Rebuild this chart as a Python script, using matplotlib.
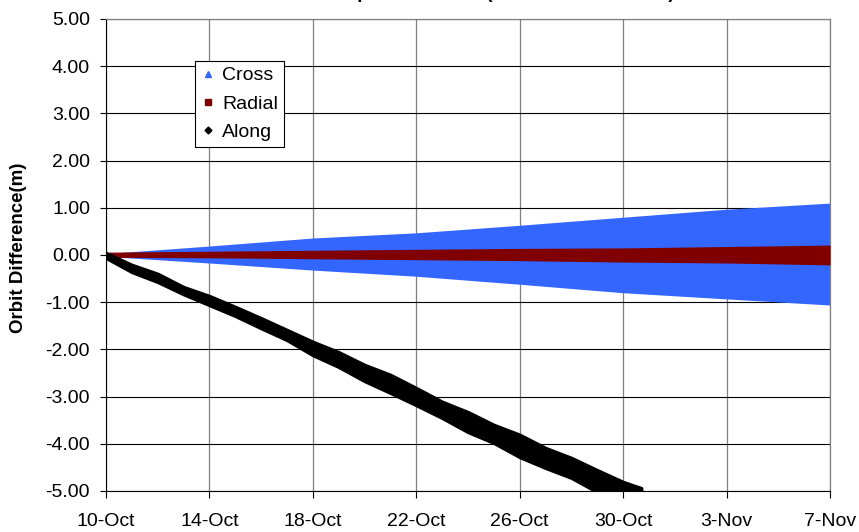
import numpy as np
import matplotlib
matplotlib.use("Agg")
import matplotlib.pyplot as plt
from matplotlib.lines import Line2D

plt.rcParams['font.family'] = ['Liberation Sans', 'DejaVu Sans']

start = np.datetime64("2005-10-10")

# Cross / Radial envelopes, read every 4 days (10-Oct .. 7-Nov)
env_days = [0, 4, 8, 12, 16, 20, 24, 28]
cross_upper = [0.03, 0.19, 0.36, 0.47, 0.63, 0.80, 0.97, 1.10]
cross_lower = [-0.03, -0.17, -0.32, -0.45, -0.62, -0.80, -0.93, -1.06]
radial_upper = [0.06, 0.08, 0.10, 0.12, 0.14, 0.15, 0.18, 0.21]
radial_lower = [-0.05, -0.06, -0.08, -0.10, -0.12, -0.15, -0.17, -0.21]

# Along band, read roughly every day
along_days = [0, 1, 2, 3, 4, 5, 6, 7, 8, 9, 10, 11, 12, 13, 14, 15, 16, 17,
              18, 19, 20, 20.7]
along_upper = [0.04, -0.21, -0.40, -0.68, -0.87, -1.10, -1.34, -1.59, -1.84,
               -2.06, -2.33, -2.54, -2.82, -3.11, -3.33, -3.60, -3.81, -4.09,
               -4.30, -4.56, -4.81, -4.94]
along_lower = [-0.06, -0.36, -0.57, -0.83, -1.06, -1.29, -1.55, -1.80, -2.12,
               -2.37, -2.67, -2.92, -3.18, -3.45, -3.75, -3.98, -4.28, -4.51,
               -4.72, -5.02, -5.25, -5.40]

tick_days = [0, 4, 8, 12, 16, 20, 24, 28]
tick_labels = ["10-Oct", "14-Oct", "18-Oct", "22-Oct", "26-Oct", "30-Oct",
               "3-Nov", "7-Nov"]
y_ticks = [-5, -4, -3, -2, -1, 0, 1, 2, 3, 4, 5]


def to_dates(days):
    return start + (np.array(days) * 24 * 60).astype("timedelta64[m]")


fig = plt.figure(figsize=(8.59, 5.32), dpi=100)
ax = fig.add_axes([0.1234, 0.0771, 0.8428, 0.8872])

blue = "#3366FF"
red = "#800000"

ax.fill_between(to_dates(env_days), cross_lower, cross_upper, color=blue, lw=0, zorder=2)
ax.fill_between(to_dates(env_days), radial_lower, radial_upper, color=red, lw=0, zorder=3)
ax.fill_between(to_dates(along_days), along_lower, along_upper, facecolor="black",
                edgecolor="black", lw=2.5, zorder=4)

ax.set_xlim(to_dates([0])[0], to_dates([28])[0])
ax.set_ylim(-5, 5)
ax.set_xticks(to_dates(tick_days))
ax.set_xticklabels(tick_labels)
ax.set_yticks(y_ticks)
ax.set_yticklabels([f"{v:.2f}" for v in y_ticks])

ax.tick_params(axis="x", labelsize=14, length=5, width=0.8, pad=11, direction="out")
ax.tick_params(axis="y", labelsize=14, length=4.5, width=0.8, pad=7, direction="out")

ax.set_axisbelow(True)
ax.xaxis.grid(True, color="#808080", lw=0.9)
ax.yaxis.grid(True, color="black", lw=0.8)
for side in ("top", "right"):
    ax.spines[side].set_color("#808080")
    ax.spines[side].set_linewidth(0.9)
for side in ("left", "bottom"):
    ax.spines[side].set_color("black")
    ax.spines[side].set_linewidth(0.8)

ax.set_ylabel("Orbit Difference(m)", fontsize=13.5, fontweight="bold")
ax.yaxis.set_label_coords(-0.109, 0.516)

# title sits above the top edge, only its lowest strokes show
fig.text(0.545, 1 + 2 / 532, "Orbit Comparison Error (Simulation Results)",
         ha="center", va="baseline", fontsize=14, fontweight="bold")

handles = [
    Line2D([], [], ls="none", marker="^", color=blue, markersize=5),
    Line2D([], [], ls="none", marker="s", color=red, markersize=4.5),
    Line2D([], [], ls="none", marker="D", color="black", markersize=3.5),
]
leg = ax.legend(handles, ["Cross", "Radial", "Along"], loc="upper left",
                bbox_to_anchor=(0.1229, 0.911), borderaxespad=0, fontsize=14,
                frameon=True, fancybox=False, edgecolor="black", framealpha=1,
                handlelength=0.7, handletextpad=0.4, borderpad=0.3,
                labelspacing=0.55)
leg.get_frame().set_linewidth(0.8)

fig.savefig("out.png", dpi=100)
